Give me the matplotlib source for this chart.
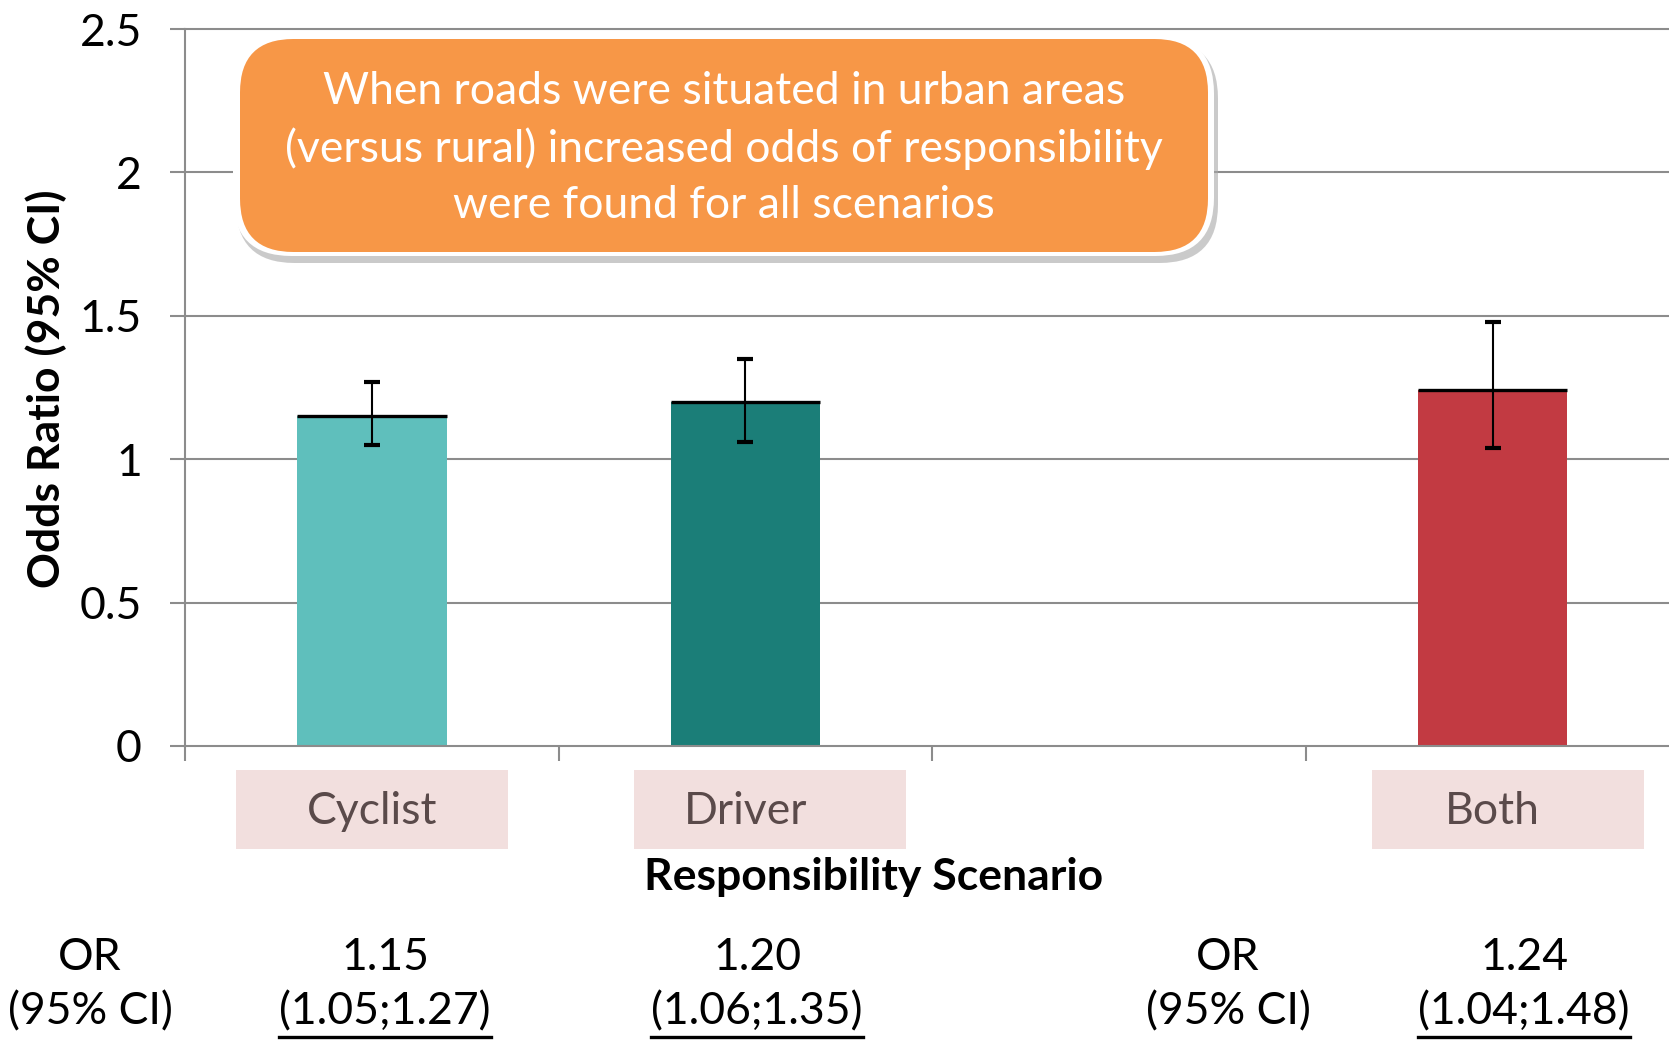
import numpy as np
import matplotlib
matplotlib.use('Agg')
import matplotlib.pyplot as plt
from matplotlib.patches import FancyBboxPatch, Rectangle
from matplotlib.lines import Line2D

plt.rcParams['font.family'] = ['Lato', 'DejaVu Sans']

# data
categories = ['Cyclist', 'Driver', '', 'Both']
odds = [1.15, 1.20, None, 1.24]
ci_low = [1.05, 1.06, None, 1.04]
ci_high = [1.27, 1.35, None, 1.48]
bar_colors = ['#5fbfbc', '#1b7e78', None, '#c23a42']
yticks = [0, 0.5, 1, 1.5, 2, 2.5]
note = ['When roads were situated in urban areas',
        '(versus rural) increased odds of responsibility',
        'were found for all scenarios']

W, H = 1669, 1042
FS = 32
fig = plt.figure(figsize=(W / 100, H / 100), dpi=100)

def fx(x):
    return x / W

def fy(y):
    return 1 - y / H

# axes: left 185px, bottom 746px, top 29px, 4 slots of ~373.6px
ax = fig.add_axes([fx(185), fy(746), 4 * 373.6 / W, (746 - 29) / H])
ax.set_xlim(-0.5, 3.5)
ax.set_ylim(0, 2.5)

grid_col = '#8c8c8c'
for y in yticks[1:]:
    ax.axhline(y, color=grid_col, lw=1.5, zorder=1, clip_on=False)

idx = [i for i, v in enumerate(odds) if v is not None]
xs = np.array(idx, dtype=float)
vals = np.array([odds[i] for i in idx])
lo = np.array([ci_low[i] for i in idx])
hi = np.array([ci_high[i] for i in idx])
bw = 0.40
ax.bar(xs, vals, width=bw, color=[bar_colors[i] for i in idx], zorder=2)
ax.hlines(vals, xs - bw / 2, xs + bw / 2, color='black', lw=2.4, zorder=3)
ax.errorbar(xs, vals, yerr=[vals - lo, hi - vals], fmt='none', ecolor='black',
            elinewidth=1.5, capsize=6, capthick=3, zorder=4)

for s in ['top', 'right']:
    ax.spines[s].set_visible(False)
for s in ['left', 'bottom']:
    ax.spines[s].set_color(grid_col)
    ax.spines[s].set_linewidth(1.5)

ax.set_yticks(yticks)
ax.set_yticklabels(['0', '0.5', '1', '1.5', '2', '2.5'], fontsize=FS)
ax.tick_params(axis='y', length=11, width=1.5, color=grid_col, pad=20)
ax.set_xticks(np.arange(-0.5, 4.0, 1.0))
ax.set_xticklabels([])
ax.tick_params(axis='x', length=11, width=1.5, color=grid_col, direction='out')

fig.text(fx(46), fy(389), 'Odds Ratio (95% CI)', rotation=90, fontsize=FS,
         fontweight='bold', ha='center', va='center')

# category label boxes
box_shift = [0.0, 0.067, 0.0, 0.042]
xtr = ax.get_xaxis_transform()
for i, name in enumerate(categories):
    if not name:
        continue
    ax.add_patch(Rectangle((i - 0.364 + box_shift[i], -0.1437), 0.728, 0.110,
                           transform=xtr, facecolor='#f2dfde', edgecolor='none',
                           clip_on=False))
    ax.text(i, -0.091, name, transform=xtr, ha='center', va='center',
            fontsize=FS, color='#5a4a4a')

fig.text(fx(874), fy(877), 'Responsibility Scenario', fontsize=FS,
         fontweight='bold', ha='center', va='center')

# orange callout
sh = FancyBboxPatch((fx(236), fy(263)), fx(1218 - 236), (263 - 40) / H,
                    boxstyle='round,pad=0,rounding_size=0.035',
                    transform=fig.transFigure, facecolor='#a8a8a8',
                    edgecolor='none', alpha=0.6, mutation_aspect=W / H)
fig.add_artist(sh)
wb = FancyBboxPatch((fx(233), fy(256)), fx(1214 - 233), (256 - 35) / H,
                    boxstyle='round,pad=0,rounding_size=0.035',
                    transform=fig.transFigure, facecolor='white',
                    edgecolor='none', mutation_aspect=W / H)
fig.add_artist(wb)
ob = FancyBboxPatch((fx(240), fy(252)), fx(1208 - 240), (252 - 39) / H,
                    boxstyle='round,pad=0,rounding_size=0.032',
                    transform=fig.transFigure, facecolor='#f79747',
                    edgecolor='none', mutation_aspect=W / H)
fig.add_artist(ob)
for k, line in enumerate(note):
    fig.text(fx(724), fy(91 + 57.5 * k), line, color='white', fontsize=FS,
             ha='center', va='center')

# bottom OR table
fig.text(fx(90), fy(957), 'OR', fontsize=FS, ha='center', va='center')
fig.text(fx(90), fy(1012), '(95% CI)', fontsize=FS, ha='center', va='center')
fig.text(fx(1228), fy(957), 'OR', fontsize=FS, ha='center', va='center')
fig.text(fx(1228), fy(1012), '(95% CI)', fontsize=FS, ha='center', va='center')

or_x = {0: 385, 1: 757, 3: 1524}
ci_texts = []
for i in idx:
    fig.text(fx(or_x[i]), fy(957), f'{odds[i]:.2f}', fontsize=FS,
             ha='center', va='center')
    t = fig.text(fx(or_x[i]), fy(1012), f'({ci_low[i]:.2f};{ci_high[i]:.2f})',
                 fontsize=FS, ha='center', va='center')
    ci_texts.append(t)

fig.canvas.draw()
r = fig.canvas.get_renderer()
for t in ci_texts:
    bb = t.get_window_extent(r)
    fig.add_artist(Line2D([bb.x0 / W, bb.x1 / W], [fy(1037), fy(1037)],
                          transform=fig.transFigure, color='black', lw=2.4))

fig.savefig('out.png', dpi=100)
